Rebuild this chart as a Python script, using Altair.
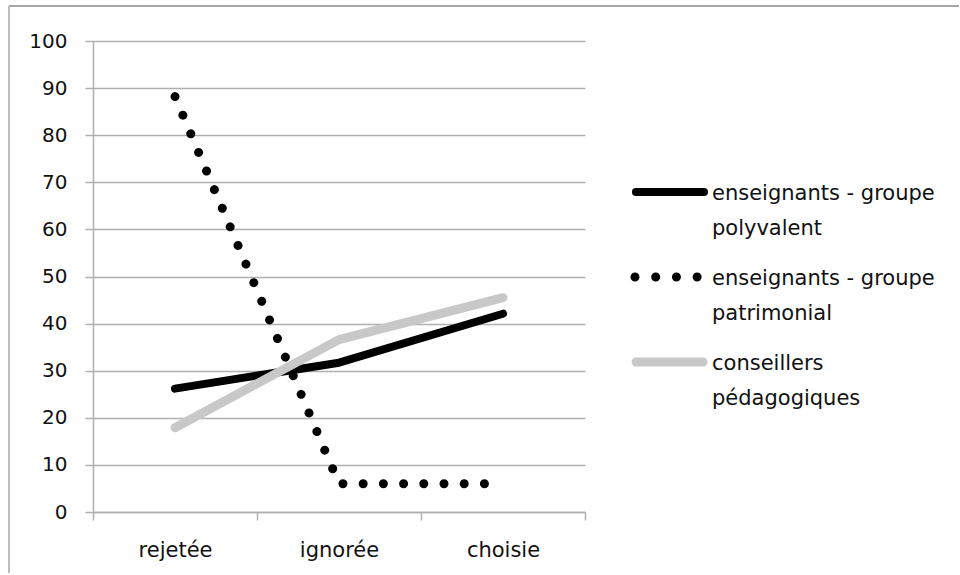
import altair as alt
import pandas as pd

# Categories on the x axis and the three series (percentages)
categories = ["rejetée", "ignorée", "choisie"]
series = [
    "enseignants - groupe polyvalent",
    "enseignants - groupe patrimonial",
    "conseillers pédagogiques",
]
polyvalent = [26.2, 31.7, 42.1]
patrimonial = [88.2, 6.0, 6.0]
conseillers = [17.9, 36.6, 45.5]
legend_labels = [
    "enseignants - groupe\npolyvalent",
    "enseignants - groupe\npatrimonial",
    "conseillers\npédagogiques",
]
y_ticks = list(range(0, 101, 10))

FONT = "DejaVu Sans"
TEXT = "#111111"
GRID = "#b0b0b0"

df = pd.DataFrame({
    "categorie": categories * 3,
    "valeur": polyvalent + patrimonial + conseillers,
    "serie": [s for s in series for _ in categories],
})

x_enc = alt.X(
    "categorie:N",
    sort=categories,
    bandPosition=0.5,
    scale=alt.Scale(type="band", paddingInner=0, paddingOuter=0),
    axis=alt.Axis(
        title=None, labelAngle=0, grid=False, tickBand="extent",
        tickSize=8, tickWidth=1.5, tickColor=GRID,
        domainColor=GRID, domainWidth=1.5,
        labelPadding=19, labelFont=FONT, labelFontSize=21, labelColor=TEXT,
    ),
)
y_enc = alt.Y(
    "valeur:Q",
    scale=alt.Scale(domain=[0, 100], nice=False, zero=True),
    axis=alt.Axis(
        title=None, values=y_ticks, grid=True, gridColor=GRID, gridWidth=1.5,
        tickSize=8, tickWidth=1.5, tickColor=GRID,
        domainColor=GRID, domainWidth=1.5,
        labelPadding=18, labelFont=FONT, labelFontSize=20, labelColor=TEXT,
    ),
)

base = alt.Chart(df).encode(x=x_enc, y=y_enc)

line_poly = base.transform_filter(alt.datum.serie == series[0]).mark_line(
    color="black", strokeWidth=8, strokeCap="round", strokeJoin="round"
)
line_patr = base.transform_filter(alt.datum.serie == series[1]).mark_line(
    color="black", strokeWidth=9, strokeCap="round", strokeDash=[0.01, 20.2]
)
line_cons = base.transform_filter(alt.datum.serie == series[2]).mark_line(
    color="#c8c8c8", strokeWidth=9, strokeCap="round", strokeJoin="round"
)

# Outer frame of the figure (top and left edges)
frame_src = alt.Chart(pd.DataFrame({"k": [0]}))
frame_top = frame_src.mark_rule(color="#a8a8a8", strokeWidth=2).encode(
    x=alt.value(-84), x2=alt.value(866), y=alt.value(-35)
)
frame_left = frame_src.mark_rule(color="#bdbdbd", strokeWidth=2).encode(
    x=alt.value(-84), y=alt.value(-35), y2=alt.value(532)
)

plot = alt.layer(line_poly, line_patr, line_cons, frame_top, frame_left).properties(
    width=492, height=471
)

# Legend panel
leg = pd.DataFrame({"serie": series, "rang": [0, 1, 2], "texte": legend_labels})
ly = alt.Y("rang:O", scale=alt.Scale(type="point", range=[151, 321], padding=0), axis=None)
leg_base = alt.Chart(leg)

sym_poly = leg_base.transform_filter(alt.datum.rang == 0).mark_rule(
    color="black", strokeWidth=8, strokeCap="round"
).encode(x=alt.value(3), x2=alt.value(71), y=ly)
sym_patr = leg_base.transform_filter(alt.datum.rang == 1).mark_rule(
    color="black", strokeWidth=9, strokeCap="round", strokeDash=[0.01, 20.7]
).encode(x=alt.value(2), x2=alt.value(65), y=ly)
sym_cons = leg_base.transform_filter(alt.datum.rang == 2).mark_rule(
    color="#c8c8c8", strokeWidth=9, strokeCap="round"
).encode(x=alt.value(3), x2=alt.value(70), y=ly)
leg_text = leg_base.mark_text(
    align="left", baseline="middle", lineBreak="\n", lineHeight=35, dy=2,
    font=FONT, fontSize=21, color=TEXT,
).encode(x=alt.value(79), y=ly, text="texte:N")

legend = alt.layer(sym_poly, sym_patr, sym_cons, leg_text).properties(
    width=250, height=471
)

chart = (
    alt.hconcat(plot, legend, spacing=48, bounds="flush")
    .properties(padding={"left": 8, "top": 5, "right": 0, "bottom": 0}, background="white")
    .configure_view(stroke=None)
)

chart.save("out.html", embed_options={"renderer": "svg", "actions": False})
